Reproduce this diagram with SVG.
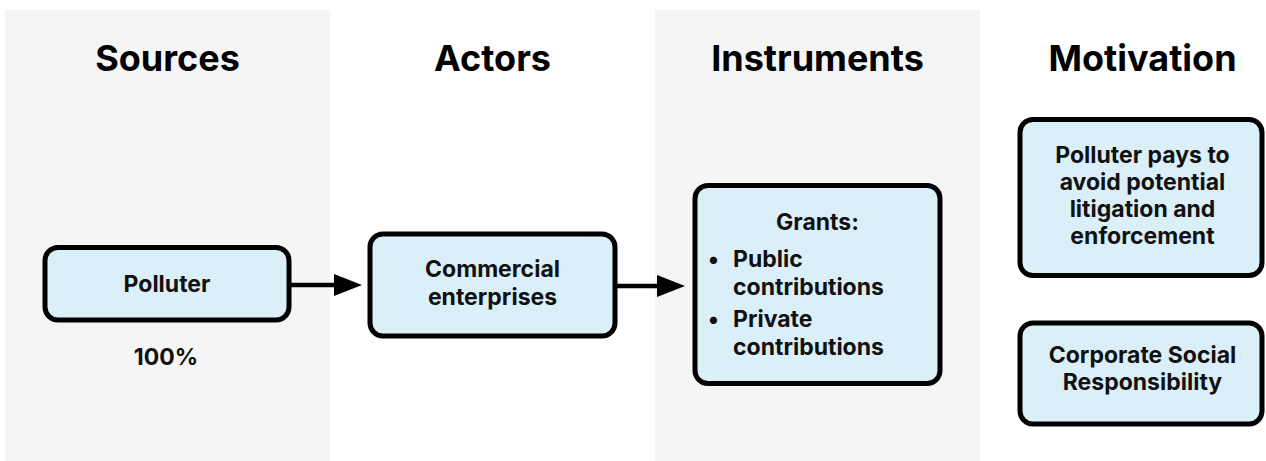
<svg xmlns="http://www.w3.org/2000/svg" width="1266" height="461" viewBox="0 0 1266 461">
  <defs>
    <style>
      .panel { fill: #f5f5f5; }
      .box { fill: #daeff8; stroke: #000; stroke-width: 5; }
      .head { font-family: Inter, "Liberation Sans", sans-serif; font-weight: 700; font-size: 36px; fill: #000; text-anchor: middle; }
      .lbl { font-family: Inter, "Liberation Sans", sans-serif; font-weight: 700; font-size: 23px; fill: #111; text-anchor: middle; }
      .left { text-anchor: start; }
      .conn { stroke: #000; stroke-width: 4.5; fill: none; }
    </style>
    <marker id="arrow" markerUnits="userSpaceOnUse" markerWidth="28" markerHeight="22" refX="2" refY="11" orient="auto">
      <path d="M0,0 L28,11 L0,22 z" fill="#000"/>
    </marker>
  </defs>

  <rect width="1266" height="461" fill="#ffffff"/>
  <rect class="panel" x="5" y="10" width="325" height="451"/>
  <rect class="panel" x="655" y="10" width="325" height="451"/>

  <g id="headings">
    <text class="head" x="167.5" y="71">Sources</text>
    <text class="head" x="492.5" y="71">Actors</text>
    <text class="head" x="817.5" y="71">Instruments</text>
    <text class="head" x="1142.5" y="71">Motivation</text>
  </g>

  <g id="connectors">
    <path class="conn" d="M291,285 H336" marker-end="url(#arrow)"/>
    <path class="conn" d="M617,286 H659" marker-end="url(#arrow)"/>
  </g>

  <g id="node-polluter">
    <rect class="box" x="45" y="247.5" width="244" height="72.5" rx="13"/>
    <text class="lbl" x="167" y="292">Polluter</text>
  </g>

  <g id="label-100">
    <text class="lbl" x="166" y="365">100%</text>
  </g>

  <g id="node-commercial">
    <rect class="box" x="370" y="234" width="245" height="102" rx="13"/>
    <text class="lbl" x="492.5" y="277">Commercial</text>
    <text class="lbl" x="492.5" y="305">enterprises</text>
  </g>

  <g id="node-grants">
    <rect class="box" x="695" y="185.5" width="245" height="198" rx="13"/>
    <text class="lbl" x="817.5" y="230">Grants:</text>
    <text class="lbl left" x="708" y="267">•</text>
    <text class="lbl left" x="733" y="267">Public</text>
    <text class="lbl left" x="733" y="295">contributions</text>
    <text class="lbl left" x="708" y="327">•</text>
    <text class="lbl left" x="733" y="327">Private</text>
    <text class="lbl left" x="733" y="355">contributions</text>
  </g>

  <g id="node-polluter-pays">
    <rect class="box" x="1020" y="119.5" width="242" height="156" rx="13"/>
    <text class="lbl" x="1142.5" y="163">Polluter pays to</text>
    <text class="lbl" x="1142.5" y="190">avoid potential</text>
    <text class="lbl" x="1142.5" y="217">litigation and</text>
    <text class="lbl" x="1142.5" y="244">enforcement</text>
  </g>

  <g id="node-csr">
    <rect class="box" x="1020" y="323" width="242" height="101" rx="13"/>
    <text class="lbl" x="1142.5" y="363">Corporate Social</text>
    <text class="lbl" x="1142.5" y="390">Responsibility</text>
  </g>
</svg>
